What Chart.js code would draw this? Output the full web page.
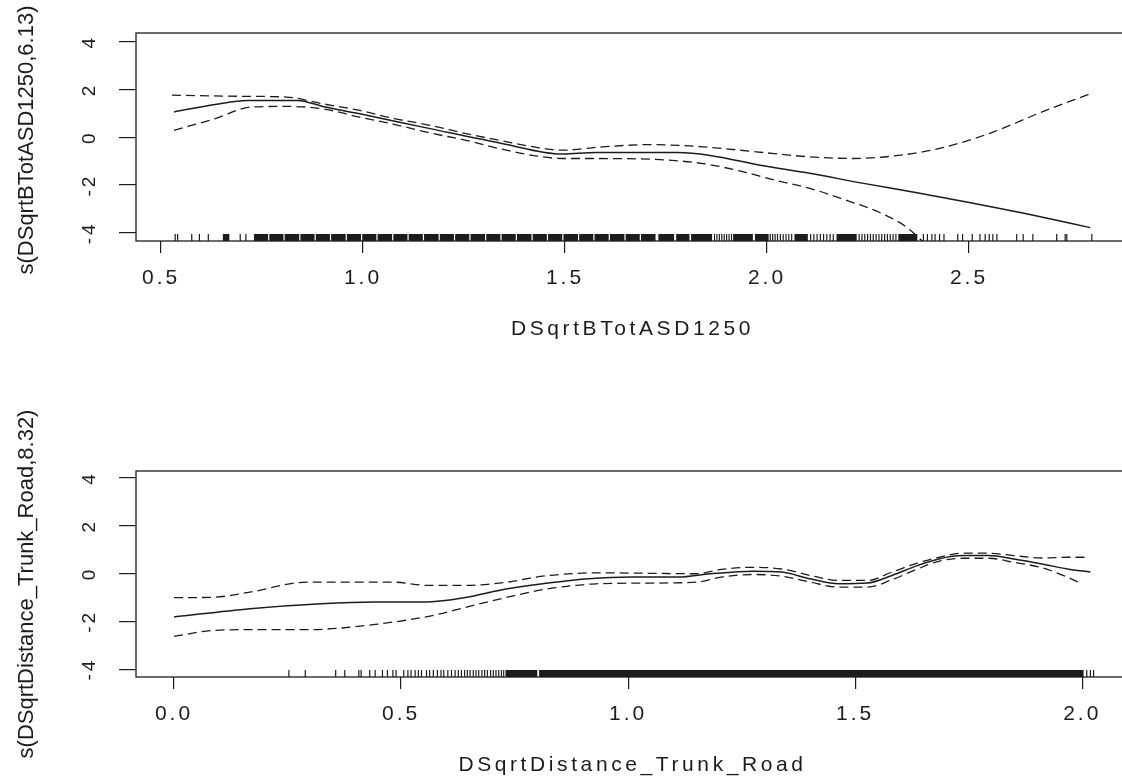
<!DOCTYPE html>
<html>
<head>
<meta charset="utf-8">
<script src="https://cdn.jsdelivr.net/npm/chart.js@4.4.1/dist/chart.umd.min.js"></script>
<style>
html,body{margin:0;padding:0;background:#fff;overflow:hidden;width:1122px;height:780px;}
#wrap{position:relative;width:1140px;height:780px;}
canvas{display:block;}
</style>
</head>
<body>
<div id="wrap">
<canvas id="c1" width="1140" height="390"></canvas>
<canvas id="c2" width="1140" height="390"></canvas>
</div>
<script>
// ---------- Panel 1: DSqrtBTotASD1250 ----------
const topXTitle = "DSqrtBTotASD1250";
const topYTitle = "s(DSqrtBTotASD1250,6.13)";
const topXTicks = [0.5, 1.0, 1.5, 2.0, 2.5];
const topYTicks = [-4, -2, 0, 2, 4];

const topFitX = [0.532,0.634,0.714,0.838,0.900,0.989,1.166,1.344,1.493,1.576,1.779,1.859,1.983,2.106,2.239,2.371,2.504,2.636,2.800];
const topFitY = [1.06,1.37,1.54,1.54,1.29,0.99,0.36,-0.26,-0.70,-0.64,-0.64,-0.76,-1.17,-1.51,-1.93,-2.32,-2.74,-3.18,-3.78];

const topUpperX = [0.527,0.714,0.811,0.900,0.989,1.077,1.166,1.255,1.344,1.432,1.493,1.594,1.708,1.841,1.973,2.106,2.213,2.310,2.416,2.549,2.681,2.800];
const topUpperY = [1.76,1.71,1.68,1.40,1.13,0.78,0.50,0.15,-0.15,-0.43,-0.54,-0.40,-0.31,-0.40,-0.61,-0.82,-0.89,-0.79,-0.51,0.15,1.06,1.82];

const topLowerX = [0.532,0.634,0.722,0.811,0.900,0.989,1.077,1.166,1.255,1.344,1.432,1.493,1.576,1.725,1.841,1.930,2.018,2.106,2.195,2.283,2.344,2.385];
const topLowerY = [0.29,0.78,1.26,1.29,1.19,0.85,0.54,0.18,-0.13,-0.50,-0.79,-0.89,-0.89,-0.93,-1.10,-1.40,-1.79,-2.14,-2.63,-3.18,-3.74,-4.35];

// rug: single observations and dense stretches (start, end)
const topRugTicks = [0.535,0.541,0.576,0.595,0.617,0.696,0.710,
  1.870,1.876,1.882,1.888,1.894,1.900,1.906,1.912,
  2.008,2.014,2.020,2.026,2.033,2.040,2.047,2.054,2.061,
  2.108,2.116,2.124,2.132,2.140,2.148,2.156,2.164,
  2.228,2.235,2.242,2.249,2.256,2.263,2.270,2.277,2.284,2.291,2.298,2.305,2.312,2.319,
  2.387,2.397,2.408,2.416,2.427,2.438,2.472,2.484,2.508,2.527,2.540,2.550,2.559,2.569,
  2.618,2.634,2.658,2.717,2.738,2.742,2.804];
const topRugBlocks = [[0.653,0.669],[0.730,0.765],[0.768,0.803],[0.806,0.842],[0.845,0.880],[0.883,0.918],
  [0.921,0.957],[0.960,0.995],[0.998,1.033],[1.036,1.072],[1.075,1.110],[1.113,1.148],[1.151,1.187],
  [1.190,1.225],[1.228,1.263],[1.266,1.302],[1.305,1.340],[1.343,1.378],[1.381,1.417],[1.420,1.455],
  [1.458,1.493],[1.496,1.532],[1.535,1.570],[1.573,1.608],[1.611,1.647],[1.650,1.685],[1.688,1.724],
  [1.731,1.770],[1.775,1.808],[1.812,1.864],[1.916,1.965],[1.970,2.004],[2.068,2.101],[2.172,2.222],[2.325,2.372]];

// ---------- Panel 2: DSqrtDistance_Trunk_Road ----------
const botXTitle = "DSqrtDistance_Trunk_Road";
const botYTitle = "s(DSqrtDistance_Trunk_Road,8.32)";
const botXTicks = [0.0, 0.5, 1.0, 1.5, 2.0];
const botYTicks = [-4, -2, 0, 2, 4];

const botFitX = [0.0,0.167,0.324,0.443,0.553,0.639,0.734,0.828,0.913,1.008,1.110,1.181,1.275,1.338,1.401,1.464,1.527,1.581,1.637,1.684,1.739,1.794,1.849,1.912,1.967,2.018];
const botFitY = [-1.82,-1.47,-1.26,-1.19,-1.19,-1.01,-0.64,-0.39,-0.22,-0.15,-0.15,-0.01,0.10,0.06,-0.22,-0.43,-0.40,-0.08,0.33,0.61,0.75,0.75,0.61,0.40,0.19,0.06];

const botUpperX = [0.0,0.088,0.167,0.293,0.403,0.482,0.561,0.639,0.734,0.797,0.850,0.929,1.046,1.150,1.205,1.268,1.338,1.401,1.464,1.527,1.581,1.637,1.684,1.739,1.794,1.849,1.912,1.967,2.006];
const botUpperY = [-1.01,-0.99,-0.78,-0.36,-0.36,-0.36,-0.50,-0.50,-0.36,-0.15,-0.04,0.03,0.01,-0.01,0.17,0.26,0.19,-0.08,-0.29,-0.29,0.06,0.44,0.68,0.85,0.85,0.75,0.65,0.68,0.68];

const botLowerX = [0.0,0.088,0.167,0.293,0.348,0.443,0.561,0.639,0.734,0.813,0.850,0.929,1.046,1.150,1.205,1.275,1.338,1.401,1.464,1.527,1.581,1.637,1.684,1.739,1.794,1.849,1.912,1.967,1.996];
const botLowerY = [-2.63,-2.38,-2.35,-2.35,-2.31,-2.13,-1.79,-1.43,-0.99,-0.67,-0.57,-0.43,-0.40,-0.36,-0.15,-0.04,-0.11,-0.36,-0.57,-0.57,-0.26,0.19,0.51,0.64,0.64,0.47,0.24,-0.15,-0.40];

const botRugTicks = [0.253,0.289,0.356,0.376,0.407,0.412,0.431,0.443,0.459,0.470,0.482,0.489,
  0.506,0.515,0.522,0.531,0.538,0.545,0.556,0.563,0.571,0.580,0.588,0.594,0.603,0.611,0.619,0.626,
  0.633,0.640,0.646,0.652,0.659,0.665,0.671,0.678,0.684,0.690,0.697,0.703,0.709,0.715,0.721,0.726,
  2.010,2.018,2.025];
const botRugBlocks = [[0.730,0.800],[0.804,2.003]];

// ---------- rendering ----------
const INK = "#1c1c1c";
const FONT = "'Liberation Sans', Arial, Helvetica, sans-serif";

function pts(xs, ys) { return xs.map((x, i) => ({x: x, y: ys[i]})); }
function blocks(list, y) {
  const out = [];
  list.forEach(([a, b]) => { out.push({x: a, y: y}, {x: b, y: y}, {x: b, y: null}); });
  return out;
}

const rframe = {
  id: 'rframe',
  beforeUpdate(chart) { chart.ctx.letterSpacing = '3px'; },
  beforeDraw(chart) { chart.ctx.letterSpacing = '3px'; },
  afterDraw(chart, args, o) {
    const ctx = chart.ctx, a = chart.chartArea;
    ctx.save();
    ctx.strokeStyle = INK;
    ctx.lineWidth = 1.3;
    ctx.strokeRect(a.left, a.top, a.right - a.left, a.bottom - a.top);
    ctx.fillStyle = INK;
    ctx.textAlign = 'center';
    ctx.textBaseline = 'middle';
    ctx.font = '21px ' + FONT;
    ctx.letterSpacing = '3.6px';
    ctx.fillText(o.xTitle, (a.left + a.right) / 2, a.bottom + 88);
    ctx.font = '22px ' + FONT;
    ctx.letterSpacing = '0px';
    ctx.translate(27, (a.top + a.bottom) / 2 + o.yShift);
    ctx.rotate(-Math.PI / 2);
    ctx.fillText(o.yTitle, 0, 0);
    ctx.restore();
  }
};

function makeChart(id, p) {
  const rugY = p.yMin + 3.5 * (p.yMax - p.yMin) / p.plotH;
  return new Chart(document.getElementById(id), {
    type: 'line',
    data: {
      datasets: [
        {data: blocks(p.rugBlocks, rugY), borderColor: INK, borderWidth: 7, borderCapStyle: 'butt',
         pointRadius: 0, tension: 0, spanGaps: false},
        {data: p.rugTicks.map(x => ({x: x, y: rugY})), showLine: false, pointStyle: 'line',
         pointRotation: 90, pointRadius: 3.5, pointBorderWidth: 1.2, pointBorderColor: INK, borderColor: INK},
        {data: pts(p.upperX, p.upperY), borderColor: INK, borderWidth: 1.3, borderDash: [9, 5],
         pointRadius: 0, cubicInterpolationMode: 'monotone'},
        {data: pts(p.lowerX, p.lowerY), borderColor: INK, borderWidth: 1.3, borderDash: [9, 5],
         pointRadius: 0, cubicInterpolationMode: 'monotone'},
        {data: pts(p.fitX, p.fitY), borderColor: INK, borderWidth: 1.5,
         pointRadius: 0, cubicInterpolationMode: 'monotone'}
      ]
    },
    options: {
      responsive: false,
      animation: false,
      events: [],
      devicePixelRatio: 1,
      layout: {padding: {top: p.padTop, right: 11, bottom: 0, left: 0}},
      plugins: {
        legend: {display: false},
        tooltip: {enabled: false},
        rframe: {xTitle: p.xTitle, yTitle: p.yTitle, yShift: p.yShift}
      },
      scales: {
        x: {
          type: 'linear', position: 'bottom', min: p.xMin, max: p.xMax,
          afterBuildTicks: s => { s.ticks = p.xTicks.map(v => ({value: v})); },
          afterFit: s => { s.height = p.xAxisH; },
          border: {display: false},
          grid: {drawOnChartArea: false, drawTicks: true, tickLength: 12, color: INK, lineWidth: 1.2},
          ticks: {autoSkip: false, maxRotation: 0, minRotation: 0, padding: 13, color: INK,
                  font: {family: FONT, size: 21}, callback: v => v.toFixed(1)}
        },
        y: {
          type: 'linear', position: 'left', min: p.yMin, max: p.yMax,
          afterBuildTicks: s => { s.ticks = p.yTicks.map(v => ({value: v})); },
          afterFit: s => { s.width = 136; },
          border: {display: false},
          grid: {drawOnChartArea: false, drawTicks: true, tickLength: 17, color: INK, lineWidth: 1.2},
          ticks: {autoSkip: false, minRotation: 90, maxRotation: 90, crossAlign: 'center', padding: 18,
                  color: INK, font: {family: FONT, size: 19}, callback: v => String(v)}
        }
      }
    },
    plugins: [rframe]
  });
}

makeChart('c1', {
  xTitle: topXTitle, yTitle: topYTitle, yShift: 3,
  xTicks: topXTicks, yTicks: topYTicks,
  xMin: 0.438, xMax: 2.896, yMin: -4.34, yMax: 4.36,
  padTop: 33, xAxisH: 149, plotH: 208,
  fitX: topFitX, fitY: topFitY, upperX: topUpperX, upperY: topUpperY, lowerX: topLowerX, lowerY: topLowerY,
  rugTicks: topRugTicks, rugBlocks: topRugBlocks
});

makeChart('c2', {
  xTitle: botXTitle, yTitle: botYTitle, yShift: 10,
  xTicks: botXTicks, yTicks: botYTicks,
  xMin: -0.0837, xMax: 2.103, yMin: -4.33, yMax: 4.29,
  padTop: 81, xAxisH: 103, plotH: 206,
  fitX: botFitX, fitY: botFitY, upperX: botUpperX, upperY: botUpperY, lowerX: botLowerX, lowerY: botLowerY,
  rugTicks: botRugTicks, rugBlocks: botRugBlocks
});
</script>
</body>
</html>
